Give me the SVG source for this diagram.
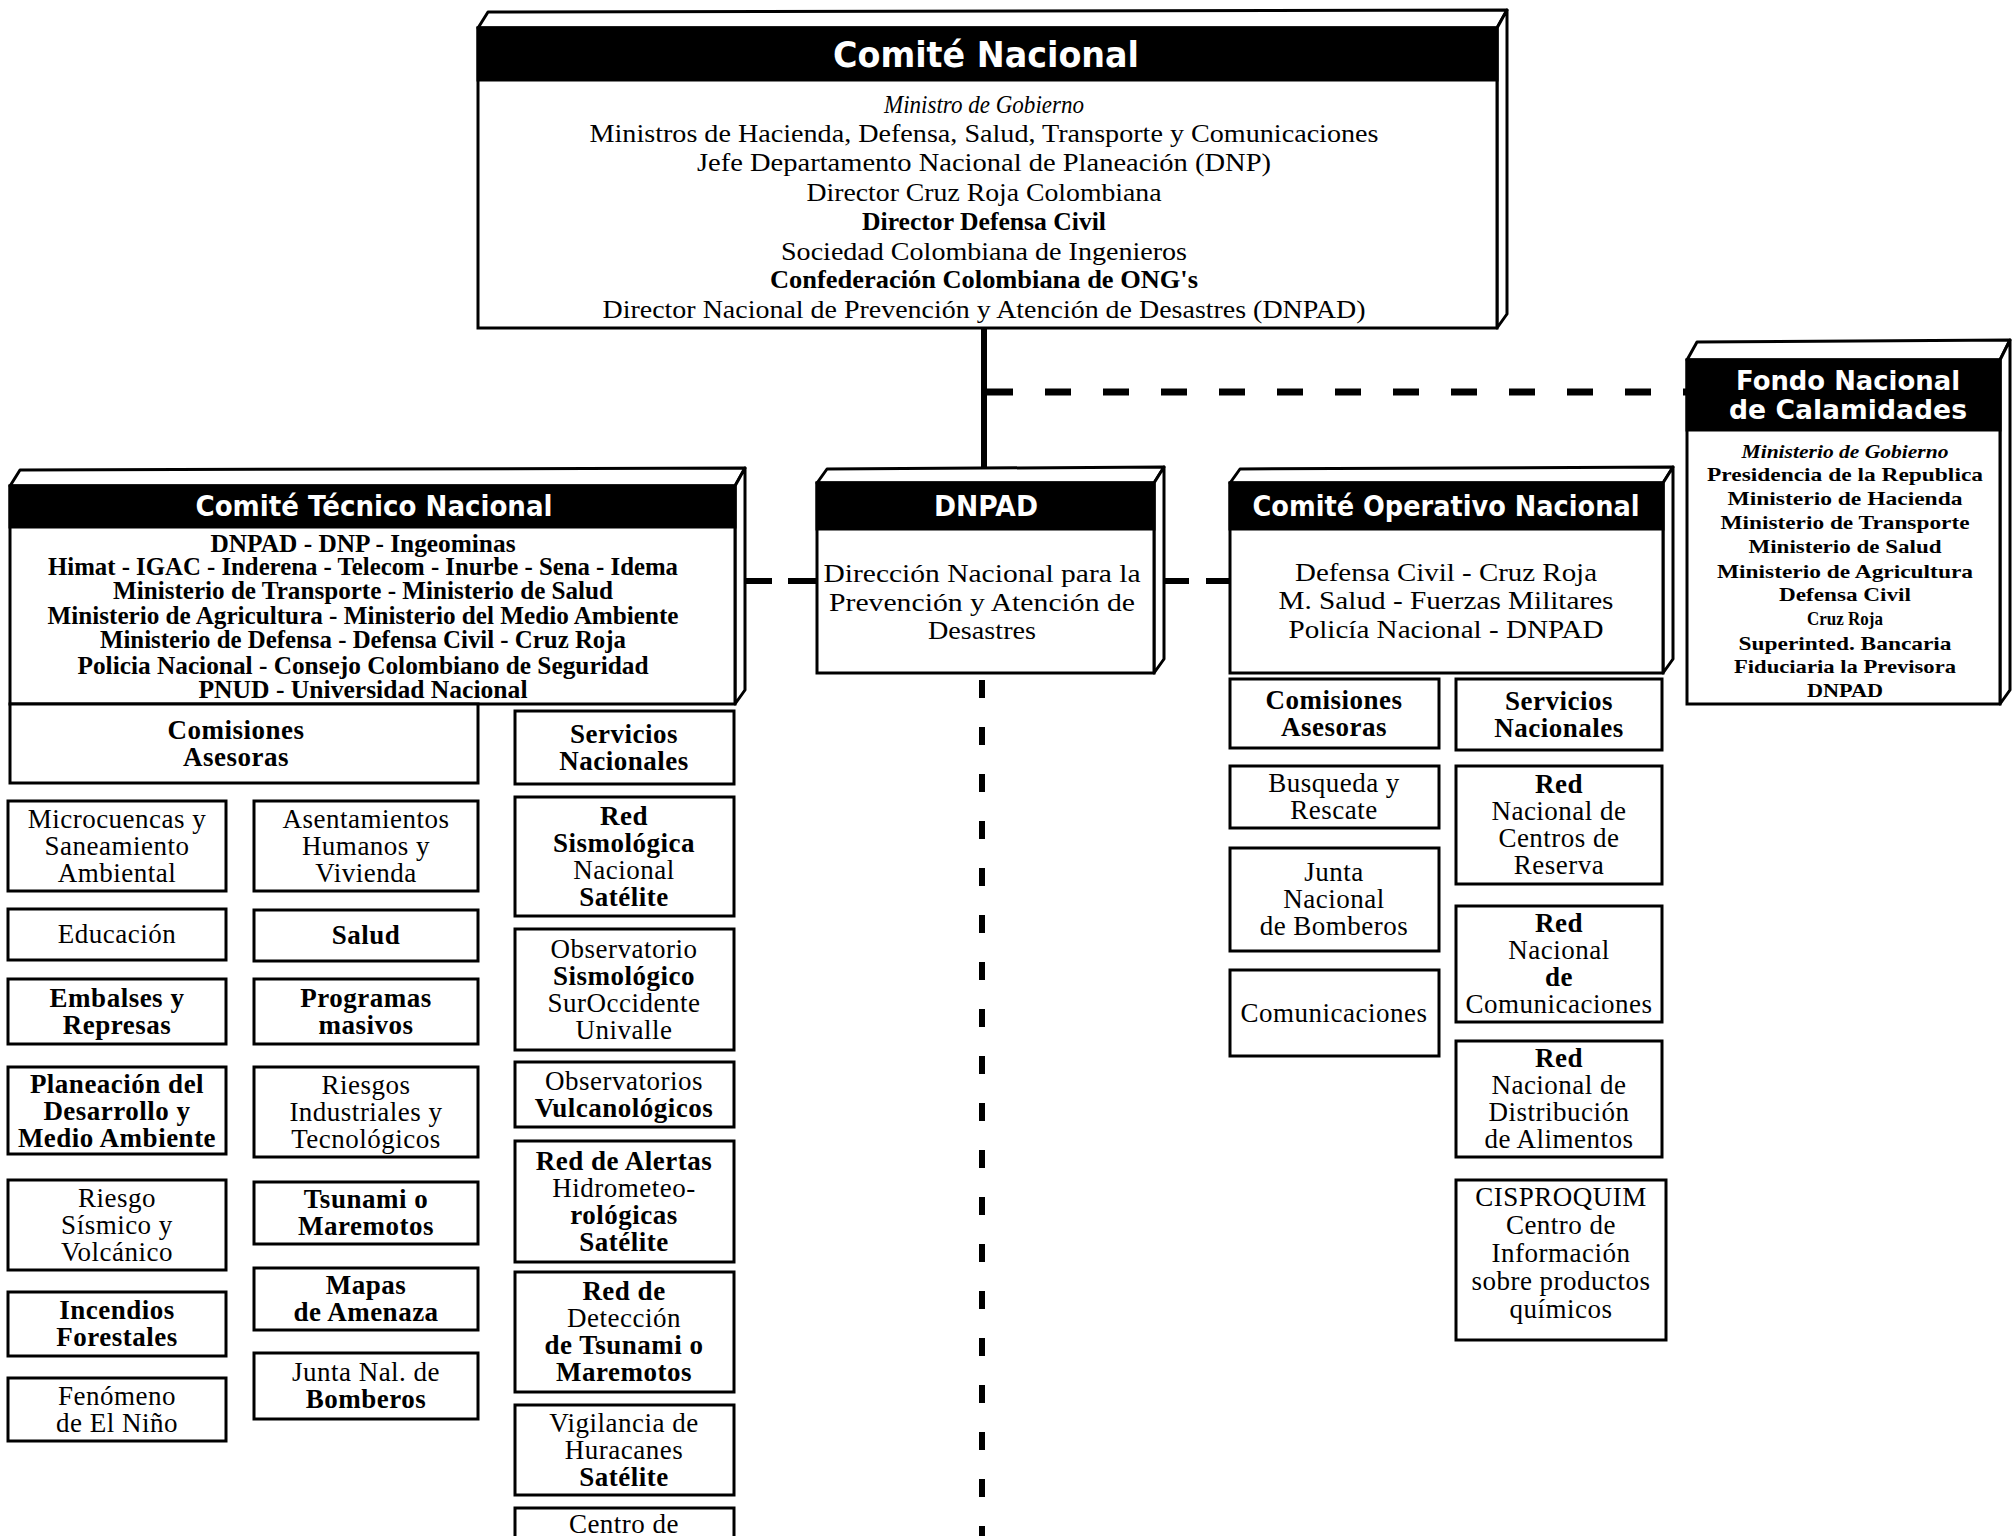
<svg xmlns="http://www.w3.org/2000/svg" width="2015" height="1536" viewBox="0 0 2015 1536">
<style>
.bg{fill:#fff}
.box{fill:#fff;stroke:#000;stroke-width:3}
.hdr{fill:#000;stroke:#000;stroke-width:3}
.face{fill:#fff;stroke:#000;stroke-width:3;stroke-linejoin:round}
.t{font-family:"Liberation Serif",serif;font-size:27px;text-anchor:middle;fill:#000;letter-spacing:0.5px}
.m{font-family:"Liberation Serif",serif;font-size:25px;text-anchor:middle;fill:#000}
.f{font-family:"Liberation Serif",serif;font-size:19px;font-weight:bold;text-anchor:middle;fill:#000}
.b{font-weight:bold}
.i{font-style:italic}
.h{font-family:"DejaVu Sans",sans-serif;font-weight:bold;fill:#fff;text-anchor:middle}
.solid{stroke:#000;stroke-width:6;fill:none}
.dash{stroke:#000;stroke-width:7;fill:none;stroke-dasharray:26 32}
.vdash{stroke:#000;stroke-width:6;fill:none;stroke-dasharray:18 29}
</style>
<rect class="bg" x="0" y="0" width="2015" height="1536"/>

<g id="connectors">
  <line class="solid" x1="984" y1="328" x2="984" y2="470"/>
  <line class="dash" x1="987" y1="392" x2="1687" y2="392"/>
  <line class="solid" x1="745" y1="581" x2="772" y2="581"/>
  <line class="solid" x1="788" y1="581" x2="817" y2="581"/>
  <line class="solid" x1="1164" y1="581" x2="1189" y2="581"/>
  <line class="solid" x1="1206" y1="581" x2="1231" y2="581"/>
  <line class="vdash" x1="982" y1="680" x2="982" y2="1536"/>
</g>

<g id="comite-nacional">
  <polygon class="face" points="478,28 488,12 1507,10 1497,28"/>
  <polygon class="face" points="1497,28 1507,10 1507,314 1497,328"/>
  <rect class="box" x="478" y="28" width="1019" height="300"/>
  <rect class="hdr" x="478" y="28" width="1019" height="52"/>
  <text class="h" x="986" y="67" font-size="36" textLength="306" lengthAdjust="spacingAndGlyphs">Comité Nacional</text>
  <text class="m i" x="984" y="113" textLength="200" lengthAdjust="spacingAndGlyphs">Ministro de Gobierno</text>
  <text class="m" x="984" y="142" textLength="789" lengthAdjust="spacingAndGlyphs">Ministros de Hacienda, Defensa, Salud, Transporte y Comunicaciones</text>
  <text class="m" x="984" y="171" textLength="574" lengthAdjust="spacingAndGlyphs">Jefe Departamento Nacional de Planeación (DNP)</text>
  <text class="m" x="984" y="201" textLength="355" lengthAdjust="spacingAndGlyphs">Director Cruz Roja Colombiana</text>
  <text class="m b" x="984" y="230" textLength="244" lengthAdjust="spacingAndGlyphs">Director Defensa Civil</text>
  <text class="m" x="984" y="260" textLength="406" lengthAdjust="spacingAndGlyphs">Sociedad Colombiana de Ingenieros</text>
  <text class="m b" x="984" y="288" textLength="428" lengthAdjust="spacingAndGlyphs">Confederación Colombiana de ONG's</text>
  <text class="m" x="984" y="318" textLength="763" lengthAdjust="spacingAndGlyphs">Director Nacional de Prevención y Atención de Desastres (DNPAD)</text>
</g>

<g id="fondo-nacional">
  <polygon class="face" points="1687,360 1697,342 2010,340 2000,360"/>
  <polygon class="face" points="2000,360 2010,340 2010,690 2000,704"/>
  <rect class="box" x="1687" y="360" width="313" height="344"/>
  <rect class="hdr" x="1687" y="360" width="313" height="70"/>
  <text class="h" x="1848" y="390" font-size="26" textLength="224" lengthAdjust="spacingAndGlyphs">Fondo Nacional</text>
  <text class="h" x="1848" y="419" font-size="26" textLength="238" lengthAdjust="spacingAndGlyphs">de Calamidades</text>
  <text class="f i" x="1845" y="458" textLength="207" lengthAdjust="spacingAndGlyphs">Ministerio de Gobierno</text>
  <text class="f" x="1845" y="481" textLength="276" lengthAdjust="spacingAndGlyphs">Presidencia de la Republica</text>
  <text class="f" x="1845" y="505" textLength="235" lengthAdjust="spacingAndGlyphs">Ministerio de Hacienda</text>
  <text class="f" x="1845" y="529" textLength="249" lengthAdjust="spacingAndGlyphs">Ministerio de Transporte</text>
  <text class="f" x="1845" y="553" textLength="193" lengthAdjust="spacingAndGlyphs">Ministerio de Salud</text>
  <text class="f" x="1845" y="578" textLength="256" lengthAdjust="spacingAndGlyphs">Ministerio de Agricultura</text>
  <text class="f" x="1845" y="601" textLength="132" lengthAdjust="spacingAndGlyphs">Defensa Civil</text>
  <text class="f" x="1845" y="625" textLength="76" lengthAdjust="spacingAndGlyphs">Cruz Roja</text>
  <text class="f" x="1845" y="650" textLength="213" lengthAdjust="spacingAndGlyphs">Superinted. Bancaria</text>
  <text class="f" x="1845" y="673" textLength="222" lengthAdjust="spacingAndGlyphs">Fiduciaria la Previsora</text>
  <text class="f" x="1845" y="697" textLength="76" lengthAdjust="spacingAndGlyphs">DNPAD</text>
</g>

<g id="comite-tecnico">
  <polygon class="face" points="10,486 20,470 745,468 735,486"/>
  <polygon class="face" points="735,486 745,468 745,690 735,704"/>
  <rect class="box" x="10" y="486" width="725" height="218"/>
  <rect class="hdr" x="10" y="486" width="725" height="41"/>
  <text class="h" x="374" y="516" font-size="28" textLength="357" lengthAdjust="spacingAndGlyphs">Comité Técnico Nacional</text>
  <text class="m b" x="363" y="552" font-size="21" textLength="305" lengthAdjust="spacingAndGlyphs">DNPAD - DNP - Ingeominas</text>
  <text class="m b" x="363" y="575" font-size="21" textLength="630" lengthAdjust="spacingAndGlyphs">Himat - IGAC - Inderena - Telecom - Inurbe - Sena - Idema</text>
  <text class="m b" x="363" y="599" font-size="21" textLength="500" lengthAdjust="spacingAndGlyphs">Ministerio de Transporte - Ministerio de Salud</text>
  <text class="m b" x="363" y="624" font-size="21" textLength="631" lengthAdjust="spacingAndGlyphs">Ministerio de Agricultura - Ministerio del Medio Ambiente</text>
  <text class="m b" x="363" y="648" font-size="21" textLength="526" lengthAdjust="spacingAndGlyphs">Ministerio de Defensa - Defensa Civil - Cruz Roja</text>
  <text class="m b" x="363" y="674" font-size="21" textLength="571" lengthAdjust="spacingAndGlyphs">Policia Nacional - Consejo Colombiano de Seguridad</text>
  <text class="m b" x="363" y="698" font-size="21" textLength="329" lengthAdjust="spacingAndGlyphs">PNUD - Universidad Nacional</text>
</g>

<g id="ctn-comisiones">
  <rect class="box" x="10" y="704" width="468" height="79"/>
  <text class="t b" x="236" y="739">Comisiones</text>
  <text class="t b" x="236" y="766">Asesoras</text>
</g>
<g id="ctn-servicios">
  <rect class="box" x="515" y="711" width="219" height="73"/>
  <text class="t b" x="624" y="743">Servicios</text>
  <text class="t b" x="624" y="770">Nacionales</text>
</g>

<g id="microcuencas">
  <rect class="box" x="8" y="801" width="218" height="90"/>
  <text class="t" x="117" y="828">Microcuencas y</text>
  <text class="t" x="117" y="855">Saneamiento</text>
  <text class="t" x="117" y="882">Ambiental</text>
</g>
<g id="educacion">
  <rect class="box" x="8" y="909" width="218" height="51"/>
  <text class="t" x="117" y="943">Educación</text>
</g>
<g id="embalses">
  <rect class="box" x="8" y="979" width="218" height="65"/>
  <text class="t b" x="117" y="1007">Embalses y</text>
  <text class="t b" x="117" y="1034">Represas</text>
</g>
<g id="planeacion">
  <rect class="box" x="8" y="1067" width="218" height="87"/>
  <text class="t b" x="117" y="1093">Planeación del</text>
  <text class="t b" x="117" y="1120">Desarrollo y</text>
  <text class="t b" x="117" y="1147">Medio Ambiente</text>
</g>
<g id="riesgo-sismico">
  <rect class="box" x="8" y="1180" width="218" height="90"/>
  <text class="t" x="117" y="1207">Riesgo</text>
  <text class="t" x="117" y="1234">Sísmico y</text>
  <text class="t" x="117" y="1261">Volcánico</text>
</g>
<g id="incendios">
  <rect class="box" x="8" y="1292" width="218" height="64"/>
  <text class="t b" x="117" y="1319">Incendios</text>
  <text class="t b" x="117" y="1346">Forestales</text>
</g>
<g id="fenomeno">
  <rect class="box" x="8" y="1378" width="218" height="63"/>
  <text class="t" x="117" y="1405">Fenómeno</text>
  <text class="t" x="117" y="1432">de El Niño</text>
</g>

<g id="asentamientos">
  <rect class="box" x="254" y="801" width="224" height="90"/>
  <text class="t" x="366" y="828">Asentamientos</text>
  <text class="t" x="366" y="855">Humanos y</text>
  <text class="t" x="366" y="882">Vivienda</text>
</g>
<g id="salud">
  <rect class="box" x="254" y="910" width="224" height="51"/>
  <text class="t b" x="366" y="944">Salud</text>
</g>
<g id="programas">
  <rect class="box" x="254" y="979" width="224" height="65"/>
  <text class="t b" x="366" y="1007">Programas</text>
  <text class="t b" x="366" y="1034">masivos</text>
</g>
<g id="riesgos-industriales">
  <rect class="box" x="254" y="1067" width="224" height="90"/>
  <text class="t" x="366" y="1094">Riesgos</text>
  <text class="t" x="366" y="1121">Industriales y</text>
  <text class="t" x="366" y="1148">Tecnológicos</text>
</g>
<g id="tsunami">
  <rect class="box" x="254" y="1182" width="224" height="62"/>
  <text class="t b" x="366" y="1208">Tsunami o</text>
  <text class="t b" x="366" y="1235">Maremotos</text>
</g>
<g id="mapas">
  <rect class="box" x="254" y="1268" width="224" height="62"/>
  <text class="t b" x="366" y="1294">Mapas</text>
  <text class="t b" x="366" y="1321">de Amenaza</text>
</g>
<g id="junta-nal">
  <rect class="box" x="254" y="1353" width="224" height="66"/>
  <text class="t" x="366" y="1381">Junta Nal. de</text>
  <text class="t b" x="366" y="1408">Bomberos</text>
</g>

<g id="red-sismologica">
  <rect class="box" x="515" y="797" width="219" height="119"/>
  <text class="t b" x="624" y="825">Red</text>
  <text class="t b" x="624" y="852">Sismológica</text>
  <text class="t" x="624" y="879">Nacional</text>
  <text class="t b" x="624" y="906">Satélite</text>
</g>
<g id="observatorio">
  <rect class="box" x="515" y="929" width="219" height="121"/>
  <text class="t" x="624" y="958">Observatorio</text>
  <text class="t b" x="624" y="985">Sismológico</text>
  <text class="t" x="624" y="1012">SurOccidente</text>
  <text class="t" x="624" y="1039">Univalle</text>
</g>
<g id="observatorios-vulc">
  <rect class="box" x="515" y="1062" width="219" height="65"/>
  <text class="t" x="624" y="1090">Observatorios</text>
  <text class="t b" x="624" y="1117">Vulcanológicos</text>
</g>
<g id="red-alertas">
  <rect class="box" x="515" y="1141" width="219" height="121"/>
  <text class="t b" x="624" y="1170">Red de Alertas</text>
  <text class="t" x="624" y="1197">Hidrometeo-</text>
  <text class="t b" x="624" y="1224">rológicas</text>
  <text class="t b" x="624" y="1251">Satélite</text>
</g>
<g id="red-deteccion">
  <rect class="box" x="515" y="1272" width="219" height="120"/>
  <text class="t b" x="624" y="1300">Red de</text>
  <text class="t" x="624" y="1327">Detección</text>
  <text class="t b" x="624" y="1354">de Tsunami o</text>
  <text class="t b" x="624" y="1381">Maremotos</text>
</g>
<g id="vigilancia">
  <rect class="box" x="515" y="1405" width="219" height="90"/>
  <text class="t" x="624" y="1432">Vigilancia de</text>
  <text class="t" x="624" y="1459">Huracanes</text>
  <text class="t b" x="624" y="1486">Satélite</text>
</g>
<g id="centro-de">
  <rect class="box" x="515" y="1508" width="219" height="40"/>
  <text class="t" x="624" y="1533">Centro de</text>
</g>

<g id="dnpad">
  <polygon class="face" points="817,483 827,469 1164,467 1154,483"/>
  <polygon class="face" points="1154,483 1164,467 1164,659 1154,673"/>
  <rect class="box" x="817" y="483" width="337" height="190"/>
  <rect class="hdr" x="817" y="483" width="337" height="46"/>
  <text class="h" x="986" y="516" font-size="28" textLength="104" lengthAdjust="spacingAndGlyphs">DNPAD</text>
  <text class="m" x="982" y="582" textLength="317" lengthAdjust="spacingAndGlyphs">Dirección Nacional para la</text>
  <text class="m" x="982" y="611" textLength="306" lengthAdjust="spacingAndGlyphs">Prevención y Atención de</text>
  <text class="m" x="982" y="639" textLength="108" lengthAdjust="spacingAndGlyphs">Desastres</text>
</g>

<g id="comite-operativo">
  <polygon class="face" points="1230,483 1240,469 1673,467 1663,483"/>
  <polygon class="face" points="1663,483 1673,467 1673,659 1663,673"/>
  <rect class="box" x="1230" y="483" width="433" height="190"/>
  <rect class="hdr" x="1230" y="483" width="433" height="46"/>
  <text class="h" x="1446" y="516" font-size="28" textLength="387" lengthAdjust="spacingAndGlyphs">Comité Operativo Nacional</text>
  <text class="m" x="1446" y="581" textLength="302" lengthAdjust="spacingAndGlyphs">Defensa Civil - Cruz Roja</text>
  <text class="m" x="1446" y="609" textLength="335" lengthAdjust="spacingAndGlyphs">M. Salud - Fuerzas Militares</text>
  <text class="m" x="1446" y="638" textLength="315" lengthAdjust="spacingAndGlyphs">Policía Nacional - DNPAD</text>
</g>

<g id="con-comisiones">
  <rect class="box" x="1230" y="679" width="209" height="69"/>
  <text class="t b" x="1334" y="709">Comisiones</text>
  <text class="t b" x="1334" y="736">Asesoras</text>
</g>
<g id="con-servicios">
  <rect class="box" x="1456" y="679" width="206" height="71"/>
  <text class="t b" x="1559" y="710">Servicios</text>
  <text class="t b" x="1559" y="737">Nacionales</text>
</g>
<g id="busqueda">
  <rect class="box" x="1230" y="766" width="209" height="62"/>
  <text class="t" x="1334" y="792">Busqueda y</text>
  <text class="t" x="1334" y="819">Rescate</text>
</g>
<g id="junta-nacional">
  <rect class="box" x="1230" y="848" width="209" height="103"/>
  <text class="t" x="1334" y="881">Junta</text>
  <text class="t" x="1334" y="908">Nacional</text>
  <text class="t" x="1334" y="935">de Bomberos</text>
</g>
<g id="comunicaciones">
  <rect class="box" x="1230" y="970" width="209" height="86"/>
  <text class="t" x="1334" y="1022">Comunicaciones</text>
</g>
<g id="red-centros">
  <rect class="box" x="1456" y="766" width="206" height="118"/>
  <text class="t b" x="1559" y="793">Red</text>
  <text class="t" x="1559" y="820">Nacional de</text>
  <text class="t" x="1559" y="847">Centros de</text>
  <text class="t" x="1559" y="874">Reserva</text>
</g>
<g id="red-comunicaciones">
  <rect class="box" x="1456" y="906" width="206" height="116"/>
  <text class="t b" x="1559" y="932">Red</text>
  <text class="t" x="1559" y="959">Nacional</text>
  <text class="t b" x="1559" y="986">de</text>
  <text class="t" x="1559" y="1013">Comunicaciones</text>
</g>
<g id="red-alimentos">
  <rect class="box" x="1456" y="1041" width="206" height="116"/>
  <text class="t b" x="1559" y="1067">Red</text>
  <text class="t" x="1559" y="1094">Nacional de</text>
  <text class="t" x="1559" y="1121">Distribución</text>
  <text class="t" x="1559" y="1148">de Alimentos</text>
</g>
<g id="cisproquim">
  <rect class="box" x="1456" y="1180" width="210" height="160"/>
  <text class="t" x="1561" y="1206" font-size="26">CISPROQUIM</text>
  <text class="t" x="1561" y="1234" font-size="26">Centro de</text>
  <text class="t" x="1561" y="1262" font-size="26">Información</text>
  <text class="t" x="1561" y="1290" font-size="26">sobre productos</text>
  <text class="t" x="1561" y="1318" font-size="26">químicos</text>
</g>
</svg>
